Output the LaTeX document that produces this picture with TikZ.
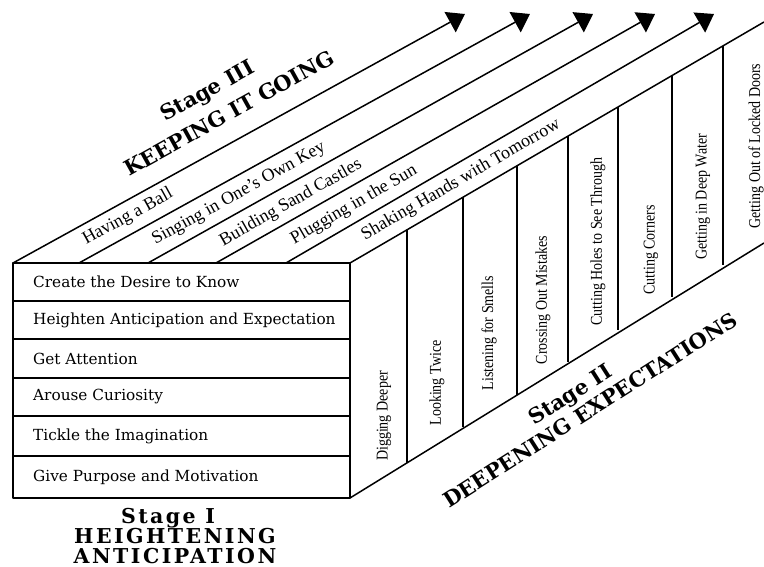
\documentclass[tikz,border=0pt]{standalone}
\usepackage{fontspec}
\usepackage{graphicx}
\setmainfont{Liberation Serif}
\newfontfamily\frontfont{DejaVu Serif}
\newfontfamily\stagefont{DejaVu Serif}
\newfontfamily\stagewide{DejaVu Serif}[LetterSpace=12]
\usetikzlibrary{arrows.meta}
\newcommand{\tallside}[1]{\scalebox{1}[1.18]{#1}}
\begin{document}
\begin{tikzpicture}[x=1pt,y=-1pt,
  edge/.style={line width=1.5pt,line join=round},
  arr/.style={line width=1.5pt,-{Triangle[length=17pt,width=23pt]}},
  rowtxt/.style={anchor=west,inner sep=0pt,font=\frontfont\fontsize{15.3}{17}\selectfont},
  toptxt/.style={inner sep=0pt,font=\fontsize{18}{20}\selectfont},
  sidetxt/.style={inner sep=0pt,rotate=90,font=\fontsize{14}{16}\selectfont},
  stagetxt/.style={inner sep=0pt,font=\stagefont\bfseries\fontsize{21}{23}\selectfont},
  stageonetxt/.style={inner sep=0pt,anchor=base,text depth=0pt,font=\stagewide\bfseries\fontsize{20.5}{22}\selectfont},
]
\useasboundingbox (0,0) rectangle (764,567);
% front face
\coordinate (F1) at (13,263);
\coordinate (F2) at (350,263);
\coordinate (F3) at (350,498);
\coordinate (F4) at (13,498);
\draw[edge] (F1) -- (F2) -- (F3) -- (F4) -- cycle;
\foreach \y in {301,339,378,416,456}{\draw[edge] (13,\y) -- (350,\y);}
\node[rowtxt] (r1) at (33,282) {Create the Desire to Know};
\node[rowtxt] (r2) at (33,320) {Heighten Anticipation and Expectation};
\node[rowtxt] (r3) at (33,358.5) {Get Attention};
\node[rowtxt] (r4) at (33,397) {Arouse Curiosity};
\node[rowtxt] (r5) at (33,436) {Tickle the Imagination};
\node[rowtxt] (r6) at (33,477) {Give Purpose and Motivation};
% top face arrows
\coordinate (B1) at (13,263);  \coordinate (T1) at (465,14);
\coordinate (B2) at (79,263);  \coordinate (T2) at (530,14);
\coordinate (B3) at (148,263); \coordinate (T3) at (593,14);
\coordinate (B4) at (216,263); \coordinate (T4) at (655,14);
\coordinate (B5) at (286,263); \coordinate (T5) at (714,14);
\foreach \i in {1,...,5}{\draw[arr] (B\i) -- (T\i);}
% side face
\coordinate (S1) at (764,22);
\coordinate (S2) at (764,243);
\draw[edge] (F2) -- (S1);
\draw[edge] (F3) -- (S2);
\foreach \x/\yt/\yb in {407/229.8/463, 463/197.2/427, 517/165.8/395, 568/136.1/362, 618/107/330, 672/75.6/297, 723/45.9/265}{
  \draw[edge] (\x,\yt) -- (\x,\yb);}
% top labels
\node[toptxt,rotate=29] (t1) at (128,217) {Having a Ball};
\node[toptxt,rotate=29] (t2) at (239,194) {Singing in One’s Own Key};
\node[toptxt,rotate=29.5] (t3) at (291,203) {Building Sand Castles};
\node[toptxt,rotate=30] (t4) at (354,205) {Plugging in the Sun};
\node[toptxt,rotate=30] (t5) at (461,180) {Shaking Hands with Tomorrow};
% side labels
\node[sidetxt] (d1) at (384,416) {\tallside{Digging Deeper}};
\node[sidetxt] (d2) at (437,383) {\tallside{Looking Twice}};
\node[sidetxt] (d3) at (489,333) {\tallside{Listening for Smells}};
\node[sidetxt] (d4) at (543,300) {\tallside{Crossing Out Mistakes}};
\node[sidetxt] (d5) at (598,242) {\tallside{Cutting Holes to See Through}};
\node[sidetxt] (d6) at (651,250) {\tallside{Cutting Corners}};
\node[sidetxt] (d7) at (703,197) {\tallside{Getting in Deep Water}};
\node[sidetxt] (d8) at (756,146) {\tallside{Getting Out of Locked Doors}};
% stage labels
\node[stagetxt,rotate=29] (s3a) at (208,92) {Stage III};
\node[stagetxt,rotate=29] (s3b) at (229,113) {KEEPING IT GOING};
\node[stagetxt,rotate=32.5] (s2a) at (571,396) {Stage II};
\node[stagetxt,rotate=32.5] (s2b) at (590,410) {DEEPENING EXPECTATIONS};
\node[stageonetxt] (s1a) at (168,523) {Stage I};
\node[stageonetxt] (s1b) at (175,543.5) {HEIGHTENING};
\node[stageonetxt] (s1c) at (175,563) {ANTICIPATION};
\end{tikzpicture}
\end{document}
